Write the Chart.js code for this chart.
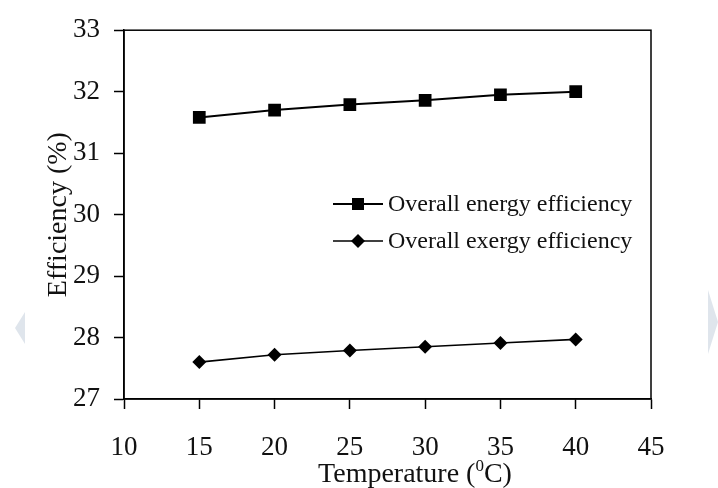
<!DOCTYPE html>
<html lang="en">
  <head>
  <meta charset="utf-8">
  <title>Efficiency vs temperature</title>
  <script src="https://cdn.jsdelivr.net/npm/chart.js@4.4.1/dist/chart.umd.min.js"></script>
  <style>
    html, body{
      margin: 0;
      padding: 0;
      background: #fff;
    }
    #wrap{
      position: relative;
      width: 718px;
      height: 488px;
    }
    .arrow{
      position: absolute;
      width: 0;
      height: 0;
      border-style: solid;
    }
    #arrow_l{
      left: 15px;
      top: 312px;
      border-width: 16px 10px 16px 0;
      border-color: transparent #dfe5ec transparent transparent;
    }
    #arrow_r{
      left: 708px;
      top: 290px;
      border-width: 32px 0 32px 10px;
      border-color: transparent transparent transparent #dfe5ec;
    }
  </style>
  </head>
  <body>
    <div id="wrap">
      <canvas id="myChart" width="718" height="488"></canvas>
      <div class="arrow" id="arrow_l"></div>
      <div class="arrow" id="arrow_r"></div>
    </div>
  <script>
    // temperature (deg C) and efficiencies (%)
    const temps = [15, 20, 25, 30, 35, 40];
    const energyEff = [31.58, 31.70, 31.79, 31.86, 31.95, 32.00];
    const exergyEff = [27.60, 27.72, 27.79, 27.85, 27.91, 27.97];
    const seriesNames = ["Overall energy efficiency", "Overall exergy efficiency"];
    const xTitle = ["Temperature (", "0", "C)"];
    const yTitle = "Efficiency (%)";

    const serif = "'Liberation Serif', 'Times New Roman', serif";

    // frame, axis titles and the legend sitting inside the plot
    const extras = {
      id: "extras",
      afterDraw(chart){
        const ctx = chart.ctx;
        const a = chart.chartArea;
        ctx.save();
        ctx.strokeStyle = "#000";
        ctx.lineWidth = 1.5;
        ctx.strokeRect(a.left, a.top, a.right - a.left, a.bottom - a.top);

        ctx.fillStyle = "#111";
        // y title
        ctx.save();
        ctx.translate(59, (a.top + a.bottom) / 2);
        ctx.rotate(-Math.PI / 2);
        ctx.font = "28px " + serif;
        ctx.textAlign = "center";
        ctx.textBaseline = "middle";
        ctx.fillText(yTitle, 0, 0);
        ctx.restore();

        // x title with superscript
        ctx.textBaseline = "alphabetic";
        ctx.textAlign = "left";
        ctx.font = "28px " + serif;
        const w1 = ctx.measureText(xTitle[0]).width;
        const w3 = ctx.measureText(xTitle[2]).width;
        ctx.font = "17px " + serif;
        const w2 = ctx.measureText(xTitle[1]).width;
        let x = 415 - (w1 + w2 + w3) / 2;
        const base = 482;
        ctx.font = "28px " + serif;
        ctx.fillText(xTitle[0], x, base);
        x += w1;
        ctx.font = "17px " + serif;
        ctx.fillText(xTitle[1], x, base - 11);
        x += w2;
        ctx.font = "28px " + serif;
        ctx.fillText(xTitle[2], x, base);

        // legend
        const rows = [204, 241];
        chart.data.datasets.forEach((ds, i) => {
          const y = rows[i];
          ctx.strokeStyle = "#000";
          ctx.lineWidth = ds.borderWidth;
          ctx.beginPath();
          ctx.moveTo(333, y);
          ctx.lineTo(383, y);
          ctx.stroke();
          ctx.fillStyle = "#000";
          ctx.beginPath();
          if(ds.pointStyle === "rect"){
            ctx.rect(352, y - 6, 12, 12);
          }else{
            ctx.moveTo(358, y - 7);
            ctx.lineTo(365, y);
            ctx.lineTo(358, y + 7);
            ctx.lineTo(351, y);
            ctx.closePath();
          }
          ctx.fill();
          ctx.fillStyle = "#111";
          ctx.font = "24px " + serif;
          ctx.textBaseline = "middle";
          ctx.fillText(ds.label, 388, y + 1);
        });
        ctx.restore();
      }
    };

    const config = {
      type: "line",
      data: {
        datasets: [{
          label: seriesNames[0],
          data: temps.map((t, i) => ({x: t, y: energyEff[i]})),
          borderColor: "#000",
          backgroundColor: "#000",
          borderWidth: 2,
          pointStyle: "rect",
          pointRadius: 9,
          pointBorderWidth: 0
        }, {
          label: seriesNames[1],
          data: temps.map((t, i) => ({x: t, y: exergyEff[i]})),
          borderColor: "#000",
          backgroundColor: "#000",
          borderWidth: 1.6,
          pointStyle: "rectRot",
          pointRadius: 7,
          pointBorderWidth: 0
        }]
      },
      options: {
        responsive: false,
        animation: false,
        events: [],
        layout: {
          padding: {left: 0, right: 67, top: 24, bottom: 0}
        },
        plugins: {
          legend: {display: false},
          tooltip: {enabled: false}
        },
        scales: {
          x: {
            type: "linear",
            min: 10,
            max: 45,
            afterFit: s => { s.height = 89; },
            ticks: {
              stepSize: 5,
              color: "#111",
              padding: 23,
              font: {family: serif, size: 27}
            },
            grid: {
              drawOnChartArea: false,
              drawTicks: true,
              tickLength: 10,
              tickColor: "#000",
              tickWidth: 1.5
            },
            border: {color: "#000", width: 1.5}
          },
          y: {
            min: 27,
            max: 33,
            afterFit: s => { s.width = 124; },
            ticks: {
              stepSize: 1,
              color: "#111",
              padding: 14,
              font: {family: serif, size: 27}
            },
            grid: {
              drawOnChartArea: false,
              drawTicks: true,
              tickLength: 10,
              tickColor: "#000",
              tickWidth: 1.5
            },
            border: {color: "#000", width: 1.5}
          }
        }
      },
      plugins: [extras]
    };

    new Chart(document.getElementById("myChart"), config);
  </script>
  </body>
</html>
